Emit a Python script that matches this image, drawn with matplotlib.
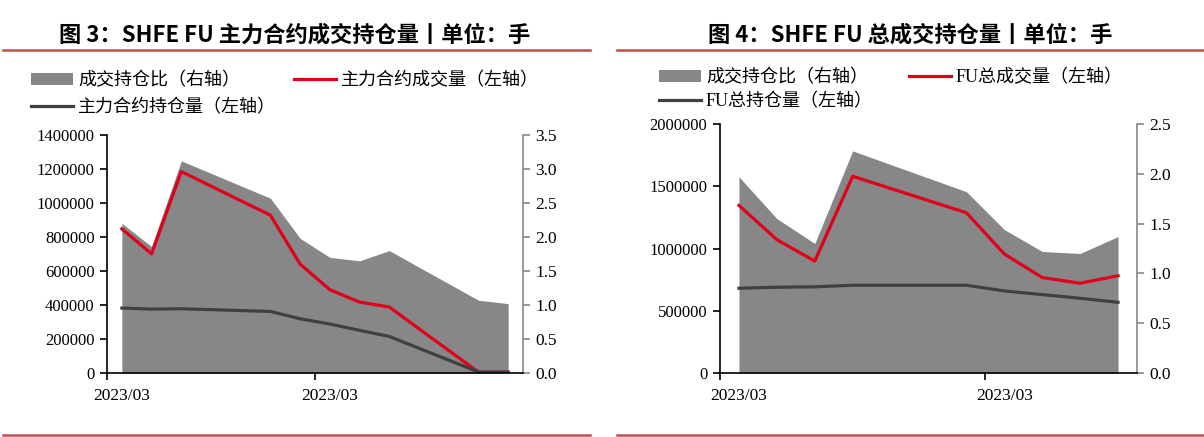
import matplotlib
matplotlib.use('Agg')
import matplotlib.pyplot as plt
import matplotlib.dates as mdates
from matplotlib.lines import Line2D
from matplotlib.patches import Patch
import numpy as np

# 图3：主力合约
dates_l = ['2023-03-01', '2023-03-02', '2023-03-03', '2023-03-06', '2023-03-07',
           '2023-03-08', '2023-03-09', '2023-03-10', '2023-03-13', '2023-03-14']
ratio_l = [2.20, 1.86, 3.12, 2.57, 1.98, 1.70, 1.65, 1.80, 1.07, 1.02]
vol_l = [848000, 701000, 1185000, 928000, 640000, 490000, 417000, 388000, 5000, 5000]
oi_l = [382000, 376000, 378000, 362000, 319000, 288000, 251000, 215000, 6000, 5000]

# 图4：FU 总量
dates_r = ['2023-03-07', '2023-03-08', '2023-03-09', '2023-03-10', '2023-03-13',
           '2023-03-14', '2023-03-15', '2023-03-16', '2023-03-17']
ratio_r = [1.97, 1.55, 1.30, 2.23, 1.82, 1.44, 1.22, 1.20, 1.37]
vol_r = [1346000, 1071000, 899000, 1580000, 1287000, 956000, 767000, 721000, 781000]
oi_r = [681000, 689000, 692000, 705000, 705000, 659000, 630000, 600000, 568000]

GRAY = '#878787'
RED = '#E0001B'
DARK = '#404040'
FRAME = '#C0504D'
CJK = ['Liberation Serif', 'Noto Sans CJK SC']

plt.rcParams['font.family'] = ['Liberation Serif', 'Noto Sans CJK SC']

fig = plt.figure(figsize=(12.04, 4.37), dpi=100)
W, H = 1204, 437


def panel(rect, dates, ratio, vol, oi, ymax, ystep, rmax, labels, leg_pos, colspace, labsp):
    ax = fig.add_axes(rect)
    ax2 = ax.twinx()
    x = mdates.datestr2num(dates)
    ax2.fill_between(x, 0, ratio, color=GRAY, lw=0)
    ax.plot(x, vol, color=RED, lw=2.3)
    ax.plot(x, oi, color=DARK, lw=2.3)
    ax.set_zorder(ax2.get_zorder() + 1)
    ax.patch.set_visible(False)

    ax.set_xlim(x[0] - 0.5, x[-1] + 0.5)
    ax.set_ylim(0, ymax)
    ax.set_yticks(np.arange(0, ymax + 1, ystep))
    ax.yaxis.set_major_formatter(matplotlib.ticker.FuncFormatter(lambda v, p: '%d' % v))
    ax2.set_ylim(0, rmax)
    ax2.set_yticks(np.arange(0, rmax + 0.01, 0.5))
    ax2.yaxis.set_major_formatter(matplotlib.ticker.FormatStrFormatter('%.1f'))

    ax.set_xticks([x[0] - 0.5, x[0] + 6.5])
    ax.set_xticks([x[0], x[0] + 7], minor=True)
    ax.set_xticklabels(['', ''])
    ax.set_xticklabels(['2023/03', '2023/03'], minor=True)
    ax.tick_params(axis='x', which='major', length=5, width=1.2, direction='out')
    ax.tick_params(axis='x', which='minor', length=0, pad=11, labelsize=12.5)
    ax.tick_params(axis='y', length=5, width=1.2, direction='out', labelsize=12, pad=4)
    ax2.tick_params(axis='y', length=5, width=1.2, direction='out', labelsize=12.5,
                    color='#888888', pad=4)

    for s in ['top', 'right']:
        ax.spines[s].set_visible(False)
    for s in ['top', 'left', 'bottom']:
        ax2.spines[s].set_visible(False)
    ax.spines['left'].set_linewidth(1.2)
    ax.spines['bottom'].set_linewidth(1.2)
    ax2.spines['right'].set_color('#888888')
    ax2.spines['right'].set_linewidth(1.2)

    handles = [Patch(facecolor=GRAY, edgecolor='none'),
               Line2D([], [], color=DARK, lw=2.3),
               Line2D([], [], color=RED, lw=2.3)]
    fig.legend(handles, labels, loc='upper left', bbox_to_anchor=leg_pos,
               ncol=2, frameon=False, borderpad=0, borderaxespad=0,
               handlelength=2.3, handletextpad=0.3, columnspacing=colspace,
               labelspacing=labsp, prop={'family': CJK, 'size': 13})


panel([107 / W, 1 - 373 / H, 416 / W, 238 / H], dates_l, ratio_l, vol_l, oi_l,
      1400000, 200000, 3.5,
      ['成交持仓比（右轴）', '主力合约持仓量（左轴）', '主力合约成交量（左轴）'],
      (31 / W, 1 - 72 / H), 1.0, 0.55)
panel([720 / W, 1 - 373 / H, 417 / W, 249 / H], dates_r, ratio_r, vol_r, oi_r,
      2000000, 500000, 2.5,
      ['成交持仓比（右轴）', 'FU总持仓量（左轴）', 'FU总成交量（左轴）'],
      (659 / W, 1 - 69 / H), 2.0, 0.4)

fig.text(295 / W, 1 - 35 / H, '图 3：SHFE FU 主力合约成交持仓量丨单位：手',
         ha='center', va='center', fontsize=16, fontweight='bold',
         family=['Noto Sans CJK SC'])
fig.text(910 / W, 1 - 35 / H, '图 4：SHFE FU 总成交持仓量丨单位：手',
         ha='center', va='center', fontsize=16, fontweight='bold',
         family=['Noto Sans CJK SC'])

for x0, x1 in [(3, 590), (617, 1204)]:
    for yy in [50, 435]:
        fig.add_artist(Line2D([x0 / W, x1 / W], [1 - yy / H, 1 - yy / H],
                              color=FRAME, lw=1.8))

fig.savefig('out.png', dpi=100)
